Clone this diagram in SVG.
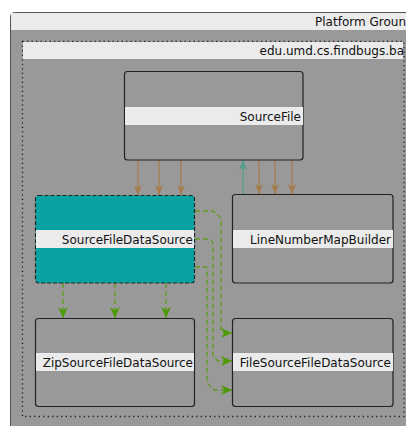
<svg xmlns="http://www.w3.org/2000/svg" width="406" height="426" viewBox="0 0 406 426">
<style>
text{font-family:"DejaVu Sans","Liberation Sans",sans-serif;font-size:12px;fill:#111;}
.band{fill:#ebebeb;}
.node{fill:#999999;stroke:#222;stroke-width:1.2;}
.dep{fill:none;stroke:#a67c4c;stroke-width:1.3;}
.use{fill:none;stroke:#4f9f8c;stroke-width:1.3;}
.inh{fill:none;stroke:#5f9a1e;stroke-width:1.3;stroke-dasharray:5,3;}
</style>
<defs>
<marker id="mb" viewBox="0 0 10 10" refX="10" refY="5" markerWidth="10" markerHeight="10" markerUnits="userSpaceOnUse" orient="auto">
<path d="M0,1 L10,5 L0,9 L3,5 z" fill="#a67c4c"/>
</marker>
<marker id="mt" viewBox="0 0 10 10" refX="10" refY="5" markerWidth="10" markerHeight="10" markerUnits="userSpaceOnUse" orient="auto">
<path d="M0,1 L10,5 L0,9 L3,5 z" fill="#4f9f8c"/>
</marker>
<marker id="mg" viewBox="0 0 10 10" refX="10" refY="5" markerWidth="11" markerHeight="11" markerUnits="userSpaceOnUse" orient="auto">
<path d="M0,0.5 L10,5 L0,9.5 L3,5 z" fill="#4e9a06"/>
</marker>
<clipPath id="cpi"><rect x="22" y="41" width="382" height="20"/></clipPath>
</defs>
<rect width="406" height="426" fill="#ffffff"/>
<g id="platform-group">
<rect x="10.5" y="12.5" width="420" height="440" rx="4" fill="#999999" stroke="#555" stroke-width="1"/>
<rect x="11" y="13" width="400" height="17" class="band"/>
<text x="406" y="25.5" text-anchor="end">Platform Groun</text>
</g>
<g id="package">
<rect x="22.5" y="41.5" width="381.5" height="375" fill="none" stroke="#222" stroke-width="1.3" stroke-dasharray="1.3,3.2"/>
<rect x="23" y="42" width="380" height="17" class="band"/>
<g clip-path="url(#cpi)"><text x="404" y="54.5" text-anchor="end">edu.umd.cs.findbugs.ba</text></g>
</g>
<g id="connectors">
<path class="dep" d="M138,160 V195" marker-end="url(#mb)"/>
<path class="dep" d="M159,160 V195" marker-end="url(#mb)"/>
<path class="dep" d="M181,160 V195" marker-end="url(#mb)"/>
<path class="use" d="M243,194 V160" marker-end="url(#mt)"/>
<path class="dep" d="M259,160 V194" marker-end="url(#mb)"/>
<path class="dep" d="M275,160 V194" marker-end="url(#mb)"/>
<path class="dep" d="M292,160 V194" marker-end="url(#mb)"/>
<path class="inh" d="M63,283 V318" marker-end="url(#mg)"/>
<path class="inh" d="M115,283 V318" marker-end="url(#mg)"/>
<path class="inh" d="M166,283 V318" marker-end="url(#mg)"/>
<path class="inh" d="M195,211 H213 L221,218 V330 Q221,333 224,333 H232" marker-end="url(#mg)"/>
<path class="inh" d="M195,239 H208 Q213,240 213,245 V356 L218,361 H232" marker-end="url(#mg)"/>
<path class="inh" d="M195,267 H206 Q207,267 207,270 V383 L214,390 H232" marker-end="url(#mg)"/>
</g>
<g id="SourceFile">
<rect x="124.5" y="71.5" width="178.5" height="88.5" rx="3" class="node"/>
<rect x="125" y="107" width="178" height="18" class="band"/>
<text x="301" y="120.5" text-anchor="end">SourceFile</text>
</g>
<g id="SourceFileDataSource">
<rect x="35.5" y="195.5" width="159" height="87.5" rx="3" fill="#0aa3a3" stroke="#222" stroke-width="1.2" stroke-dasharray="4,2"/>
<rect x="36" y="230" width="158" height="18" class="band"/>
<text x="193" y="243.5" text-anchor="end">SourceFileDataSource</text>
</g>
<g id="LineNumberMapBuilder">
<rect x="232.5" y="194.5" width="160.5" height="88.5" rx="3" class="node"/>
<rect x="233" y="230" width="160" height="18" class="band"/>
<text x="391" y="243.5" text-anchor="end">LineNumberMapBuilder</text>
</g>
<g id="ZipSourceFileDataSource">
<rect x="35.5" y="318.5" width="159" height="88" rx="3" class="node"/>
<rect x="36" y="353" width="158" height="18" class="band"/>
<text x="193" y="366.5" text-anchor="end">ZipSourceFileDataSource</text>
</g>
<g id="FileSourceFileDataSource">
<rect x="232.5" y="318.5" width="160.5" height="88" rx="3" class="node"/>
<rect x="233" y="353" width="160" height="18" class="band"/>
<text x="391" y="366.5" text-anchor="end">FileSourceFileDataSource</text>
</g>
</svg>
